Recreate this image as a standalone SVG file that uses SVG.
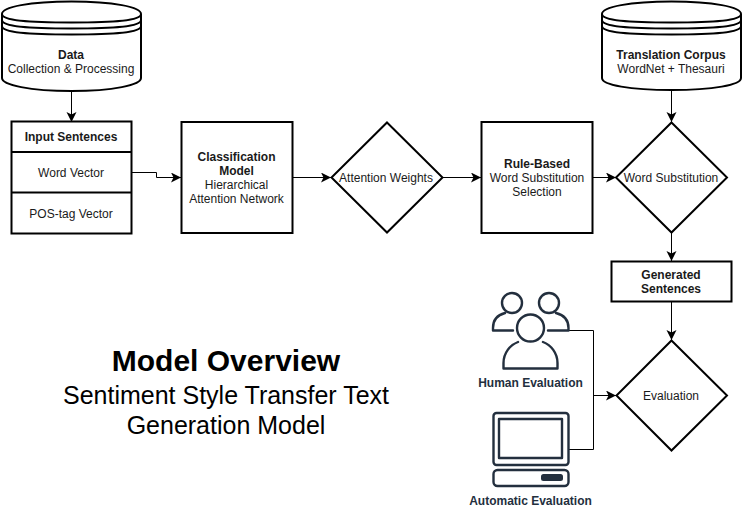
<svg xmlns="http://www.w3.org/2000/svg" width="742" height="522" viewBox="0 0 742 522">
<style>
text{font-family:"Liberation Sans",Arial,sans-serif;font-size:12px;fill:#1a1a1a;text-anchor:middle}
.b{font-weight:bold}
.s{fill:#fff;stroke:#000;stroke-width:2}
.n{fill:none;stroke:#000;stroke-width:2}
.c{fill:none;stroke:#000;stroke-width:1;}
.i{fill:none;stroke:#232f3e;stroke-width:2.4;stroke-linecap:round;stroke-linejoin:round}
.l{fill:#232f3e;font-size:12px;font-weight:bold}
</style>
<defs>
<marker id="a" markerUnits="userSpaceOnUse" markerWidth="12" markerHeight="12" refX="10" refY="5" orient="auto"><path d="M0 0L10 5L0 10L2.500 5Z" fill="#000"/></marker>
</defs>
<rect width="742" height="522" fill="#fff"/>
<g id="connectors">
<path class="c" d="M71.500 92V122" marker-end="url(#a)"/>
<path class="c" d="M132 172.500H156.500V177.500H181" marker-end="url(#a)"/>
<path class="c" d="M293 177.500H331" marker-end="url(#a)"/>
<path class="c" d="M443 177.500H481" marker-end="url(#a)"/>
<path class="c" d="M593 177.500H616" marker-end="url(#a)"/>
<path class="c" d="M671.500 91V122" marker-end="url(#a)"/>
<path class="c" d="M671.500 233V261" marker-end="url(#a)"/>
<path class="c" d="M671.500 302V340" marker-end="url(#a)"/>
<path class="c" d="M569 330.500H593.500V449.500H569" />
<path class="c" d="M593.500 395.500H616" marker-end="url(#a)"/>
</g>
<g id="data">
<path class="s" d="M2 14C2 7 30 1.500 71.500 1.500S141 7 141 14V78C141 85 113 91 71.500 91S2 85 2 78Z"/>
<path class="n" d="M2 14C2 21 30 22.500 71.500 22.500S141 21 141 14M2 20C2 27 30 28.500 71.500 28.500S141 27 141 20M2 26C2 33 30 34.500 71.500 34.500S141 33 141 26"/>
<text class="b" x="71" y="59">Data</text><text x="71" y="73">Collection &amp; Processing</text>
</g>
<g id="input-sentences">
<rect class="s" x="11.500" y="121.500" width="120" height="112"/>
<path class="n" d="M11.500 152H131.500M11.500 192.500H131.500"/>
<text class="b" x="71" y="141">Input Sentences</text>
<text x="71" y="177">Word Vector</text>
<text x="71" y="218">POS-tag Vector</text>
</g>
<g id="classification">
<rect class="s" x="181.500" y="122" width="111" height="111"/>
<text class="b" x="236.500" y="161">Classification</text><text class="b" x="236.500" y="175">Model</text>
<text x="236.500" y="189">Hierarchical</text><text x="236.500" y="203">Attention Network</text>
</g>
<g id="attention">
<path class="s" d="M387 122.500L442.500 177.500L387 232.500L331.500 177.500Z"/>
<text x="386" y="182">Attention Weights</text>
</g>
<g id="rule-based">
<rect class="s" x="481.500" y="122" width="111" height="111"/>
<text class="b" x="537" y="168">Rule-Based</text>
<text x="537" y="182">Word Substitution</text><text x="537" y="196">Selection</text>
</g>
<g id="corpus">
<path class="s" d="M602 14C602 7 630 1.500 671.500 1.500S741 7 741 14V78C741 85 713 90 671.500 90S602 85 602 78Z"/>
<path class="n" d="M602 14C602 21 630 22.500 671.500 22.500S741 21 741 14M602 20C602 27 630 28.500 671.500 28.500S741 27 741 20M602 26C602 33 630 34.500 671.500 34.500S741 33 741 26"/>
<text class="b" x="671" y="59">Translation Corpus</text><text x="671" y="73">WordNet + Thesauri</text>
</g>
<g id="substitution">
<path class="s" d="M671.500 122.500L727 177.500L671.500 232.500L616 177.500Z"/>
<text x="671" y="182">Word Substitution</text>
</g>
<g id="generated">
<rect class="s" x="611.500" y="261.500" width="120" height="40"/>
<text class="b" x="671" y="279">Generated</text><text class="b" x="671" y="293">Sentences</text>
</g>
<g id="evaluation">
<path class="s" d="M671.500 340.500L727 395.500L671.500 450.500L616.500 395.500Z"/>
<text x="671" y="400">Evaluation</text>
</g>
<g id="human">
<circle class="i" cx="512" cy="303" r="10"/><circle class="i" cx="549" cy="303" r="10"/>
<path class="i" d="M493 330.500V328C493 320 497 315 505 313M568.500 330.500V328C568.500 320 564 315 556 313M493 330.500H513M548 330.500H568.500"/>
<circle class="i" cx="530.500" cy="328" r="13.500"/>
<path class="i" d="M503.500 368.500V363C503.500 353 510 345 518 342M543 342C551 345 557.500 353 557.500 363V368.500H503.500"/>
<text class="l" x="530.500" y="387">Human Evaluation</text>
</g>
<g id="computer">
<rect class="i" x="493.500" y="413" width="75" height="52" rx="3"/>
<rect class="i" x="499" y="419" width="63" height="39"/>
<rect class="i" x="493.500" y="470" width="75" height="16" rx="4"/>
<rect x="541" y="474" width="22" height="7" rx="2.500" fill="#232f3e"/>
<text class="l" x="530.500" y="505">Automatic Evaluation</text>
</g>
<g id="title">
<text class="b" x="226" y="371" style="font-size:30px;fill:#000">Model Overview</text>
<text x="226" y="404" style="font-size:25px;fill:#000">Sentiment Style Transfer Text</text>
<text x="226" y="434" style="font-size:25px;fill:#000">Generation Model</text>
</g>
</svg>
